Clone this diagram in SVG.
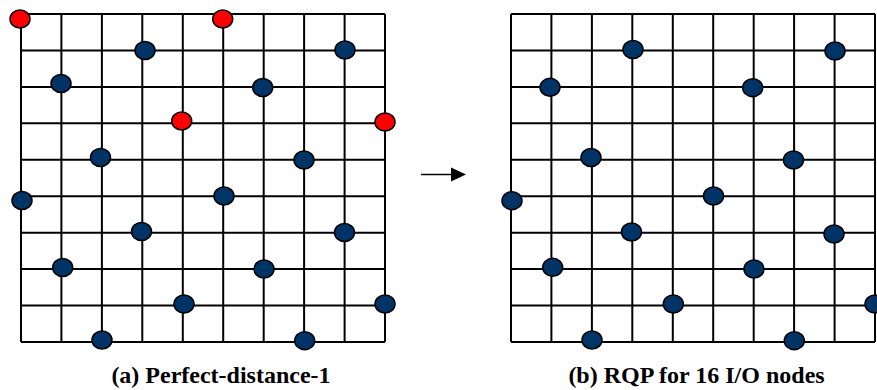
<svg xmlns="http://www.w3.org/2000/svg" width="877" height="390" viewBox="0 0 877 390">
<style>
.grid line{stroke:#000;stroke-width:2;}
.n{stroke:#000;stroke-width:1.5;}
.b{fill:#003366;}
.r{fill:#ff0000;}
.lbl{font-family:"Liberation Serif","Times New Roman",serif;font-weight:bold;font-size:24px;text-anchor:middle;fill:#000;}
</style>
<defs>
<g id="mesh" class="grid">
<line x1="21" y1="14" x2="385" y2="14"/>
<line x1="21" y1="50.4" x2="385" y2="50.4"/>
<line x1="21" y1="86.9" x2="385" y2="86.9"/>
<line x1="21" y1="123.3" x2="385" y2="123.3"/>
<line x1="21" y1="159.8" x2="385" y2="159.8"/>
<line x1="21" y1="196.2" x2="385" y2="196.2"/>
<line x1="21" y1="232.7" x2="385" y2="232.7"/>
<line x1="21" y1="269.1" x2="385" y2="269.1"/>
<line x1="21" y1="305.6" x2="385" y2="305.6"/>
<line x1="21" y1="342" x2="385" y2="342"/>
<line x1="21" y1="14" x2="21" y2="342"/>
<line x1="61.4" y1="14" x2="61.4" y2="342"/>
<line x1="101.9" y1="14" x2="101.9" y2="342"/>
<line x1="142.3" y1="14" x2="142.3" y2="342"/>
<line x1="182.8" y1="14" x2="182.8" y2="342"/>
<line x1="223.2" y1="14" x2="223.2" y2="342"/>
<line x1="263.7" y1="14" x2="263.7" y2="342"/>
<line x1="304.1" y1="14" x2="304.1" y2="342"/>
<line x1="344.6" y1="14" x2="344.6" y2="342"/>
<line x1="385" y1="14" x2="385" y2="342"/>
</g>
</defs>

<g id="panel-a">
<use href="#mesh"/>
<g id="a-r0c0"><ellipse class="n r" cx="20" cy="19" rx="10" ry="9"/></g>
<g id="a-r0c5"><ellipse class="n r" cx="222.7" cy="19" rx="10" ry="9"/></g>
<g id="a-r1c3"><ellipse class="n b" cx="145" cy="50.5" rx="10" ry="9"/></g>
<g id="a-r1c8"><ellipse class="n b" cx="345" cy="50" rx="10" ry="9"/></g>
<g id="a-r2c1"><ellipse class="n b" cx="61" cy="83.5" rx="10" ry="9"/></g>
<g id="a-r2c6"><ellipse class="n b" cx="262.7" cy="87.5" rx="10" ry="9"/></g>
<g id="a-r3c4"><ellipse class="n r" cx="181.7" cy="121" rx="10" ry="9"/></g>
<g id="a-r3c9"><ellipse class="n r" cx="385" cy="122" rx="10" ry="9"/></g>
<g id="a-r4c2"><ellipse class="n b" cx="100.5" cy="157.5" rx="10" ry="9"/></g>
<g id="a-r4c7"><ellipse class="n b" cx="304" cy="160" rx="10" ry="9"/></g>
<g id="a-r5c0"><ellipse class="n b" cx="22" cy="200.5" rx="10" ry="9"/></g>
<g id="a-r5c5"><ellipse class="n b" cx="224" cy="196" rx="10" ry="9"/></g>
<g id="a-r6c3"><ellipse class="n b" cx="141.5" cy="231.5" rx="10" ry="9"/></g>
<g id="a-r6c8"><ellipse class="n b" cx="344.5" cy="232.5" rx="10" ry="9"/></g>
<g id="a-r7c1"><ellipse class="n b" cx="62.7" cy="267.5" rx="10" ry="9"/></g>
<g id="a-r7c6"><ellipse class="n b" cx="264" cy="269" rx="10" ry="9"/></g>
<g id="a-r8c4"><ellipse class="n b" cx="184" cy="304" rx="10" ry="9"/></g>
<g id="a-r8c9"><ellipse class="n b" cx="385" cy="304" rx="10" ry="9"/></g>
<g id="a-r9c2"><ellipse class="n b" cx="102" cy="340" rx="10" ry="9"/></g>
<g id="a-r9c7"><ellipse class="n b" cx="304.7" cy="340.7" rx="10" ry="9"/></g>
<text class="lbl" x="221" y="383">(a) Perfect-distance-1</text>
</g>

<g id="panel-b" transform="translate(490,0)">
<use href="#mesh"/>
<g id="b-r1c3"><ellipse class="n b" cx="143" cy="49.5" rx="10" ry="9"/></g>
<g id="b-r1c8"><ellipse class="n b" cx="345" cy="51" rx="10" ry="9"/></g>
<g id="b-r2c1"><ellipse class="n b" cx="60" cy="87.3" rx="10" ry="9"/></g>
<g id="b-r2c6"><ellipse class="n b" cx="262.7" cy="87.7" rx="10" ry="9"/></g>
<g id="b-r4c2"><ellipse class="n b" cx="101" cy="157.5" rx="10" ry="9"/></g>
<g id="b-r4c7"><ellipse class="n b" cx="303.5" cy="160" rx="10" ry="9"/></g>
<g id="b-r5c0"><ellipse class="n b" cx="22" cy="200.7" rx="10" ry="9"/></g>
<g id="b-r5c5"><ellipse class="n b" cx="223.5" cy="196" rx="10" ry="9"/></g>
<g id="b-r6c3"><ellipse class="n b" cx="141.5" cy="232" rx="10" ry="9"/></g>
<g id="b-r6c8"><ellipse class="n b" cx="344" cy="234" rx="10" ry="9"/></g>
<g id="b-r7c1"><ellipse class="n b" cx="62.7" cy="267.3" rx="10" ry="9"/></g>
<g id="b-r7c6"><ellipse class="n b" cx="264" cy="269" rx="10" ry="9"/></g>
<g id="b-r8c4"><ellipse class="n b" cx="183.3" cy="304" rx="10" ry="9"/></g>
<g id="b-r8c9"><ellipse class="n b" cx="385" cy="304" rx="10" ry="9"/></g>
<g id="b-r9c2"><ellipse class="n b" cx="102" cy="340" rx="10" ry="9"/></g>
<g id="b-r9c7"><ellipse class="n b" cx="304.3" cy="340.7" rx="10" ry="9"/></g>
<text class="lbl" x="206.5" y="383">(b) RQP for 16 I/O nodes</text>
</g>

<g id="connectors">
<line x1="421" y1="174.5" x2="453" y2="174.5" stroke="#000" stroke-width="1.5"/>
<polygon points="451,167.5 466,174.5 451,181.5" fill="#000"/>
</g>
</svg>
